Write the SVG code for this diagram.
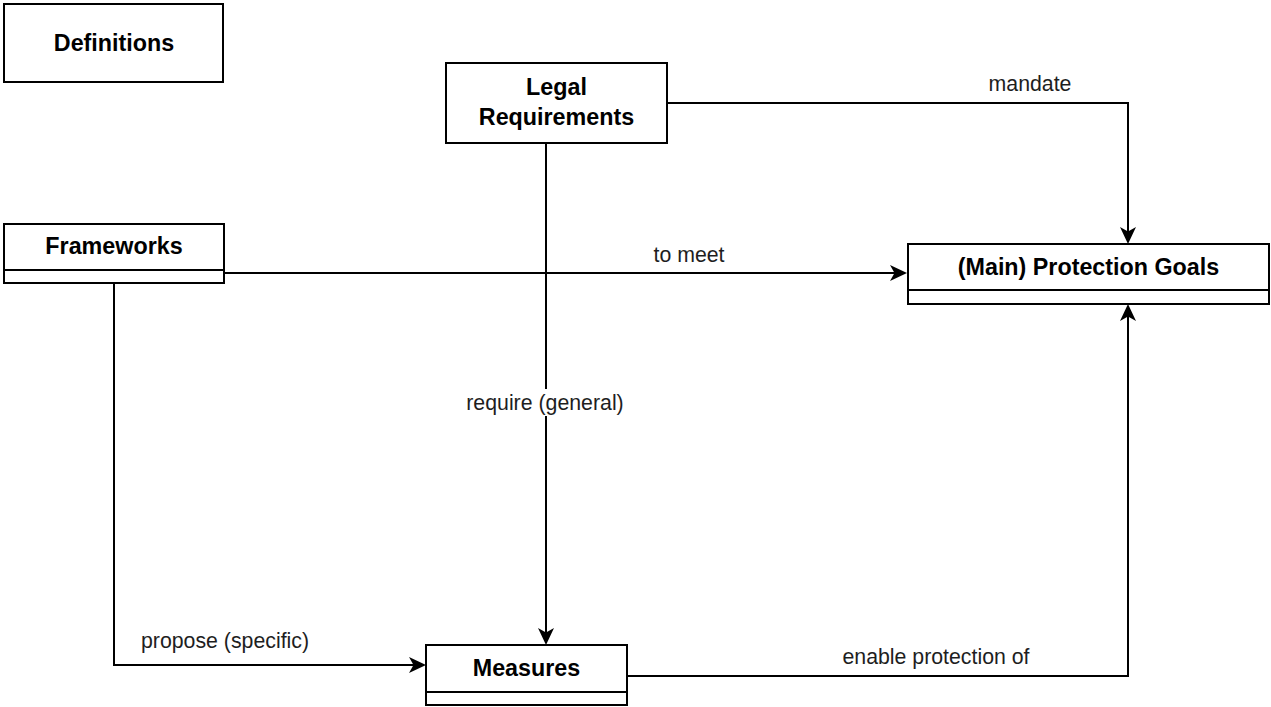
<svg xmlns="http://www.w3.org/2000/svg" width="1271" height="707" viewBox="0 0 1271 707">
  <style>
    .box { fill: #ffffff; stroke: #000000; stroke-width: 2; }
    .div { fill: none; stroke: #000000; stroke-width: 2; }
    .title { font-family: "Liberation Sans", Arial, Helvetica, sans-serif; font-size: 23.3px; font-weight: bold; fill: #000000; text-anchor: middle; }
    .edge { fill: none; stroke: #000000; stroke-width: 2; marker-end: url(#arrow); }
    .lbl { font-family: "Liberation Sans", Arial, Helvetica, sans-serif; font-size: 21.3px; fill: #1e1e1e; text-anchor: middle; }
  </style>
  <defs>
    <!-- classic notched arrowhead; tip sits 6px past the path end -->
    <marker id="arrow" viewBox="-12 -9 19 18" markerWidth="19" markerHeight="18" refX="0" refY="0" orient="auto" markerUnits="userSpaceOnUse">
      <path d="M6,0 L-11,-8 L-6.5,0 L-11,8 Z" fill="#000000"/>
    </marker>
  </defs>
  <rect width="1271" height="707" fill="#ffffff"/>

  <g id="connectors">
    <!-- Legal Requirements -> Protection Goals -->
    <path class="edge" d="M667,103 H1128 V238"/>
    <!-- Frameworks -> Protection Goals -->
    <path class="edge" d="M224,273 H901"/>
    <!-- Legal Requirements -> Measures -->
    <path class="edge" d="M546,143 V639"/>
    <!-- Frameworks -> Measures -->
    <path class="edge" d="M114,283 V665 H420"/>
    <!-- Measures -> Protection Goals -->
    <path class="edge" d="M627,676 H1128 V310"/>

    <text class="lbl" x="1030" y="91">mandate</text>
    <text class="lbl" x="689" y="262">to meet</text>
    <rect x="462" y="389" width="166" height="27" fill="#ffffff"/>
    <text class="lbl" x="545" y="410">require (general)</text>
    <text class="lbl" x="225" y="648">propose (specific)</text>
    <text class="lbl" x="936" y="664">enable protection of</text>
  </g>

  <g id="definitions">
    <rect class="box" x="4" y="4" width="219" height="78"/>
    <text class="title" x="114" y="51">Definitions</text>
  </g>

  <g id="legal-requirements">
    <rect class="box" x="446" y="63" width="221" height="80"/>
    <text class="title" x="556.5" y="95">Legal</text>
    <text class="title" x="556.5" y="125">Requirements</text>
  </g>

  <g id="frameworks">
    <rect class="box" x="4" y="224" width="220" height="59"/>
    <line class="div" x1="4" y1="270" x2="224" y2="270"/>
    <text class="title" x="114" y="254">Frameworks</text>
  </g>

  <g id="protection-goals">
    <rect class="box" x="908" y="244" width="361" height="60"/>
    <line class="div" x1="908" y1="290" x2="1269" y2="290"/>
    <text class="title" x="1088.5" y="275">(Main) Protection Goals</text>
  </g>

  <g id="measures">
    <rect class="box" x="426" y="645" width="201" height="60"/>
    <line class="div" x1="426" y1="692" x2="627" y2="692"/>
    <text class="title" x="526.5" y="676">Measures</text>
  </g>
</svg>
